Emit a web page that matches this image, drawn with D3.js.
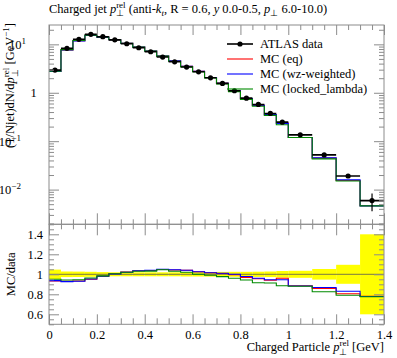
<!DOCTYPE html>
<html><head><meta charset="utf-8">
<script src="https://cdn.jsdelivr.net/npm/d3@7"></script>
<style>
body{margin:0;background:#fff;}
text{font-family:"Liberation Serif","Times New Roman",serif;fill:#000;}
</style></head><body>
<svg id="c" width="397" height="358"></svg>
<script>
// ---------------- data ----------------
const binEdges = [0,0.05,0.1,0.15,0.2,0.25,0.3,0.35,0.4,0.45,0.5,0.55,0.6,0.65,0.7,0.75,0.8,0.85,0.9,0.95,1.0,1.1,1.2,1.3,1.4];
const dataVals = [2.94,8.27,12.7,16.1,14.4,12.4,10.3,8.51,7.03,5.46,4.36,3.40,2.71,2.04,1.56,1.10,0.775,0.574,0.374,0.247,0.135,0.0521,0.0191,0.00593];
const dataRelErr = [0.047,0.028,0.027,0.025,0.022,0.02,0.02,0.02,0.02,0.02,0.02,0.022,0.022,0.023,0.024,0.025,0.025,0.026,0.028,0.033,0.035,0.053,0.095,0.40];
const mcEq = [2.743,7.691,11.84,15.30,14.11,12.46,10.53,8.808,7.297,5.722,4.547,3.536,2.778,2.071,1.572,1.095,0.7502,0.5482,0.3516,0.2371,0.1195,0.04470,0.01538,0.004625];
const mcWz = [2.755,7.666,11.81,15.34,14.11,12.44,10.51,8.816,7.311,5.733,4.556,3.536,2.778,2.073,1.576,1.100,0.7580,0.5510,0.3534,0.2334,0.1192,0.04522,0.01585,0.004614];
const mcLocked = [2.793,7.799,12.00,15.50,14.18,12.46,10.51,8.765,7.255,5.706,4.491,3.468,2.710,2.020,1.524,1.056,0.7308,0.5258,0.3415,0.2186,0.1188,0.04303,0.01509,0.004602];
const seriesNames = ["ATLAS data","MC (eq)","MC (wz-weighted)","MC (locked_lambda)"];
const seriesColors = ["#000000","#ff0000","#0000ff","#008a00"];
const xDomain = [0,1.4];
const xMajorTicks = [0,0.2,0.4,0.6,0.8,1.0,1.2,1.4];
const xTickLabels = ["0","0.2","0.4","0.6","0.8","1","1.2","1.4"];
const yMainDomain = [0.00192,25.1];
const yMainMajor = [0.01,0.1,1,10];
const yMainLabels = [["10","−2"],["10","−1"],["1",""],["10","1"]];
const ratioDomain = [0.5,1.5];
const ratioMajor = [0.6,0.8,1.0,1.2,1.4];
const ratioLabels = ["0.6","0.8","1","1.2","1.4"];

// ---------------- layout ----------------
const L=49, R=384, T=25, MB=224.3, RB=324.3;
const FS=12.5, FRAME="#8c8c8c";
const svg=d3.select("#c");
const x=d3.scaleLinear().domain(xDomain).range([L,R]);
const y=d3.scaleLog().domain(yMainDomain).range([MB,T]);
const yr=d3.scaleLinear().domain(ratioDomain).range([RB,MB]);

// rich text helper
function rich(parent, parts, fs){
  const t=parent.append("text").attr("font-size",fs);
  let cur=0, prevW=0, pending=0;
  parts.forEach(p=>{
    const target = p.sub? 0.28*fs : p.sup? -0.38*fs : 0;
    const ts=t.append("tspan").text(p.t).attr("font-size",(p.sub||p.sup)?0.72*fs:fs);
    if(p.i) ts.attr("font-style","italic");
    if(target!==cur) ts.attr("dy",target-cur);
    cur=target;
    let dx=pending; pending=0;
    if(p.over) dx-=prevW;
    if(dx) ts.attr("dx",dx);
    const w=ts.node().getComputedTextLength();
    if(p.over && prevW>w) pending=prevW-w;
    prevW=w;
  });
  return t;
}

// clip paths
const defs=svg.append("defs");
defs.append("clipPath").attr("id","cm").append("rect").attr("x",L).attr("y",T).attr("width",R-L).attr("height",MB-T);
defs.append("clipPath").attr("id","cr").append("rect").attr("x",L).attr("y",MB).attr("width",R-L).attr("height",RB-MB);

const nb=dataVals.length;
const centers=d3.range(nb).map(i=>(binEdges[i]+binEdges[i+1])/2);
function stepPts(vals){ const p=vals.map((v,i)=>[binEdges[i],v]); p.push([binEdges[nb],vals[nb-1]]); return p; }

// ---------------- ratio band ----------------
const gr=svg.append("g").attr("clip-path","url(#cr)");
gr.selectAll("rect.band").data(d3.range(nb)).join("rect")
  .attr("x",i=>x(binEdges[i])).attr("width",i=>x(binEdges[i+1])-x(binEdges[i]))
  .attr("y",i=>yr(1+dataRelErr[i])).attr("height",i=>yr(1-dataRelErr[i])-yr(1+dataRelErr[i]))
  .attr("fill","#ffff00");
gr.append("line").attr("x1",L).attr("x2",R).attr("y1",yr(1)).attr("y2",yr(1)).attr("stroke","#555").attr("stroke-width",0.8);

const mcs=[mcEq,mcWz,mcLocked];
const lineM=d3.line().x(d=>x(d[0])).y(d=>y(d[1])).curve(d3.curveStepAfter);
const lineR=d3.line().x(d=>x(d[0])).y(d=>yr(d[1])).curve(d3.curveStepAfter);
mcs.forEach((m,k)=>{
  const ratio=m.map((v,i)=>v/dataVals[i]);
  gr.append("path").attr("d",lineR(stepPts(ratio))).attr("fill","none").attr("stroke",seriesColors[k+1]).attr("stroke-width",1.1);
});

// ---------------- main plot ----------------
const gm=svg.append("g").attr("clip-path","url(#cm)");
mcs.forEach((m,k)=>{
  gm.append("path").attr("d",lineM(stepPts(m))).attr("fill","none").attr("stroke",seriesColors[k+1]).attr("stroke-width",1.1);
});
// data
d3.range(nb).forEach(i=>{
  gm.append("line").attr("x1",x(binEdges[i])).attr("x2",x(binEdges[i+1])).attr("y1",y(dataVals[i])).attr("y2",y(dataVals[i])).attr("stroke","#000").attr("stroke-width",1.6);
  gm.append("line").attr("x1",x(centers[i])).attr("x2",x(centers[i])).attr("y1",y(dataVals[i]*(1+dataRelErr[i]))).attr("y2",y(dataVals[i]*(1-dataRelErr[i]))).attr("stroke","#000").attr("stroke-width",1.2);
  gm.append("circle").attr("cx",x(centers[i])).attr("cy",y(dataVals[i])).attr("r",2.6).attr("fill","#000");
});

// ---------------- axes / frames ----------------
const xMinor=d3.range(0,1.4001,0.05).map(v=>+v.toFixed(2)).filter(v=>!xMajorTicks.some(m=>Math.abs(m-v)<1e-6));
function ax(axis, tx, ty){
  const g=svg.append("g").attr("transform",`translate(${tx},${ty})`).call(axis);
  g.select(".domain").remove();
  g.selectAll("line").attr("stroke",FRAME);
  return g;
}
// top of main
ax(d3.axisTop(x).tickValues(xMajorTicks).tickSize(-10).tickFormat(""),0,T);
ax(d3.axisTop(x).tickValues(xMinor).tickSize(-5).tickFormat(""),0,T);
// boundary
ax(d3.axisBottom(x).tickValues(xMajorTicks).tickSize(-11).tickFormat(""),0,MB);
ax(d3.axisBottom(x).tickValues(xMinor).tickSize(-5).tickFormat(""),0,MB);
ax(d3.axisTop(x).tickValues(xMajorTicks).tickSize(-11).tickFormat(""),0,MB);
ax(d3.axisTop(x).tickValues(xMinor).tickSize(-5).tickFormat(""),0,MB);
// bottom of ratio with labels
const gx=ax(d3.axisBottom(x).tickValues(xMajorTicks).tickSize(-10).tickPadding(6).tickFormat((d,i)=>xTickLabels[i]),0,RB);
gx.selectAll("text").attr("font-size",FS).attr("font-family","Liberation Serif").attr("fill","#000");
ax(d3.axisBottom(x).tickValues(xMinor).tickSize(-6).tickFormat(""),0,RB);

// main y
const yMinor=[];
for(let e=-3;e<=1;e++) for(let m=2;m<=9;m++){const v=m*Math.pow(10,e); if(v>=yMainDomain[0]&&v<=yMainDomain[1]) yMinor.push(v);}
const gyl=ax(d3.axisLeft(y).tickValues(yMainMajor).tickSize(-10).tickPadding(6).tickFormat(""),L,0);
ax(d3.axisLeft(y).tickValues(yMinor).tickSize(-5).tickFormat(""),L,0);
ax(d3.axisRight(y).tickValues(yMainMajor).tickSize(-10).tickFormat(""),R,0);
ax(d3.axisRight(y).tickValues(yMinor).tickSize(-5).tickFormat(""),R,0);
gyl.selectAll(".tick").each(function(d,i){
  const lab=yMainLabels[i];
  const parts=[{t:lab[0]}]; if(lab[1]) parts.push({t:lab[1],sup:true});
  const t=rich(d3.select(this),parts,FS);
  const w=t.node().getBBox().width;
  t.attr("x",-6-w).attr("y",4);
});
// ratio y
const rMinor=d3.range(0.5,1.5001,0.05).map(v=>+v.toFixed(2)).filter(v=>!ratioMajor.some(m=>Math.abs(m-v)<1e-6));
const gry=ax(d3.axisLeft(yr).tickValues(ratioMajor).tickSize(-10).tickPadding(6).tickFormat((d,i)=>ratioLabels[i]),L,0);
gry.selectAll("text").attr("font-size",FS).attr("font-family","Liberation Serif").attr("fill","#000");
ax(d3.axisLeft(yr).tickValues(rMinor).tickSize(-5).tickFormat(""),L,0);
ax(d3.axisRight(yr).tickValues(ratioMajor).tickSize(-10).tickFormat(""),R,0);
ax(d3.axisRight(yr).tickValues(rMinor).tickSize(-5).tickFormat(""),R,0);

// frames
svg.append("rect").attr("x",L).attr("y",T).attr("width",R-L).attr("height",MB-T).attr("fill","none").attr("stroke",FRAME);
svg.append("rect").attr("x",L).attr("y",MB).attr("width",R-L).attr("height",RB-MB).attr("fill","none").attr("stroke",FRAME);

// ---------------- legend ----------------
const lg=svg.append("g");
const legY=[44,59,74,89];
seriesNames.forEach((n,k)=>{
  lg.append("line").attr("x1",227).attr("x2",253).attr("y1",legY[k]).attr("y2",legY[k]).attr("stroke",seriesColors[k]).attr("stroke-width",k===0?1.6:1.1);
  if(k===0) lg.append("circle").attr("cx",240).attr("cy",legY[k]).attr("r",2.6).attr("fill","#000");
  lg.append("text").attr("x",260).attr("y",legY[k]+4.3).attr("font-size",FS).text(n);
});

// ---------------- titles ----------------
const title=rich(svg,[{t:"Charged jet "},{t:"p",i:true},{t:"⊥",sub:true},{t:"rel",sup:true,over:true},{t:" (anti-"},{t:"k",i:true},{t:"t",sub:true,i:true},{t:", R = 0.6, "},{t:"y",i:true},{t:" 0.0-0.5, "},{t:"p",i:true},{t:"⊥",sub:true},{t:" 6.0-10.0)"}],FS);
title.attr("x",L).attr("y",12.5);

const xl=rich(svg,[{t:"Charged Particle "},{t:"p",i:true},{t:"⊥",sub:true},{t:"rel",sup:true,over:true},{t:" [GeV]"}],FS);
const xlw=xl.node().getBBox().width;
xl.attr("x",R-xlw).attr("y",351);

const ylg=svg.append("g");
const yl=rich(ylg,[{t:"(1/Njet)dN/d"},{t:"p",i:true},{t:"⊥",sub:true},{t:"rel",sup:true,over:true},{t:" [GeV"},{t:"−1",sup:true},{t:"]"}],FS);
const ylw=yl.node().getBBox().width;
yl.attr("x",-ylw).attr("y",0);
ylg.attr("transform",`translate(14,${T-2}) rotate(-90)`);

const rlg=svg.append("g");
const rl=rlg.append("text").attr("font-size",FS).attr("text-anchor","middle").text("MC/data");
rlg.attr("transform",`translate(15,${(MB+RB)/2}) rotate(-90)`);
</script>
</body></html>
